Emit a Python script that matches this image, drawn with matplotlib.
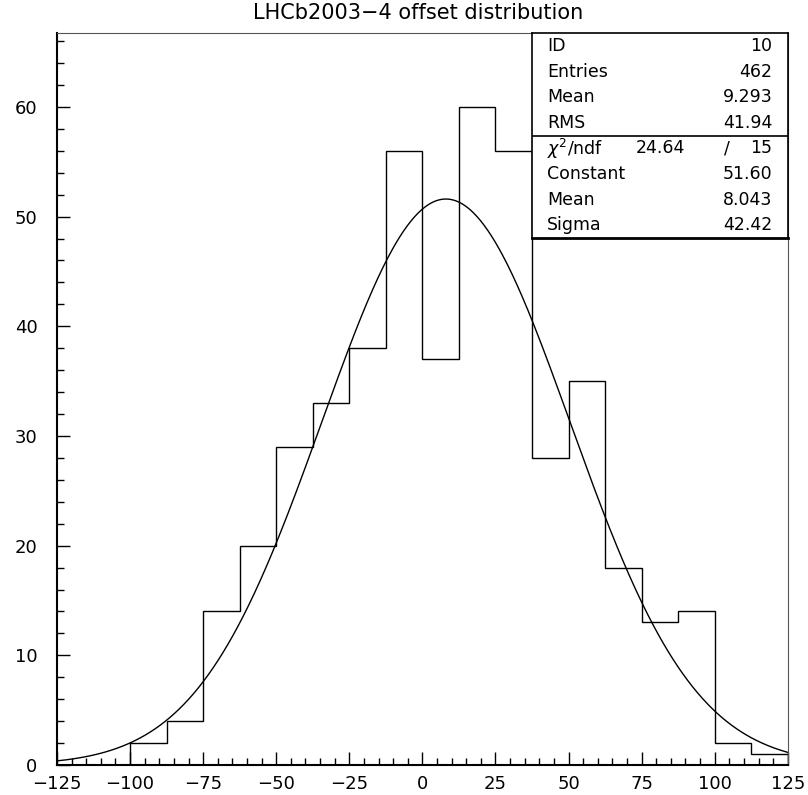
import numpy as np
import matplotlib
matplotlib.use('Agg')
import matplotlib.pyplot as plt
from matplotlib.ticker import MultipleLocator

# Contenido del histograma (bins de 12.5 entre -125 y 125)
bin_edges = [-125, -112.5, -100, -87.5, -75, -62.5, -50, -37.5, -25, -12.5, 0,
             12.5, 25, 37.5, 50, 62.5, 75, 87.5, 100, 112.5, 125]
counts = [0, 0, 2, 4, 14, 20, 29, 33, 38, 56, 37, 60, 56, 28, 35, 18, 13, 14, 2, 1]

# Parametros del ajuste gaussiano
fit_constant = 51.60
fit_mean = 8.043
fit_sigma = 42.42

stats_top = [('ID', '10'), ('Entries', '462'), ('Mean', '9.293'), ('RMS', '41.94')]
stats_fit = [('Constant', '51.60'), ('Mean', '8.043'), ('Sigma', '42.42')]
chi2 = '24.64'
ndf = '15'

plt.rcParams['font.family'] = ['DejaVu Sans']
plt.rcParams['mathtext.fontset'] = 'dejavusans'

fig = plt.figure(figsize=(8.08, 7.95), dpi=100)
ax = fig.add_axes([0.0705, 0.0377, 0.9045, 0.9203])

ax.stairs(counts, bin_edges, color='black', linewidth=1.0, baseline=0)

x = np.linspace(-125, 125, 600)
y = fit_constant * np.exp(-0.5 * ((x - fit_mean) / fit_sigma) ** 2)
ax.plot(x, y, color='black', linewidth=1.0)

ax.set_xlim(-125, 125)
ax.set_ylim(0, 66.7)
ax.xaxis.set_major_locator(MultipleLocator(25))
ax.xaxis.set_minor_locator(MultipleLocator(5))
ax.yaxis.set_major_locator(MultipleLocator(10))
ax.yaxis.set_minor_locator(MultipleLocator(2))
ax.tick_params(which='both', direction='in', top=False, right=False, width=1.0)
ax.tick_params(which='major', length=9.5, labelsize=13)
ax.tick_params(which='minor', length=5)
ax.tick_params(axis='y', pad=14)
ax.tick_params(axis='x', pad=7)
for s in ['left', 'bottom']:
    ax.spines[s].set_linewidth(1.5)
for s in ['top', 'right']:
    ax.spines[s].set_linewidth(0.8)
    ax.spines[s].set_color('#555555')

fig.text(0.517, 0.984, 'LHCb2003\u22124 offset distribution', ha='center', va='center',
         fontsize=15)

# Caja de estadisticas
box = fig.add_axes([0.6584, 0.7006, 0.3168, 0.2575])
box.set_xlim(0, 1)
box.set_ylim(8, 0)
box.set_xticks([])
box.set_yticks([])
box.set_facecolor('white')
for s in box.spines.values():
    s.set_linewidth(1.2)
box.spines['bottom'].set_linewidth(2.0)
box.axhline(4, color='black', linewidth=1.2)

fs = 12.5
row = 0
for name, val in stats_top:
    box.text(0.06, row + 0.5, name, ha='left', va='center', fontsize=fs)
    box.text(0.94, row + 0.5, val, ha='right', va='center', fontsize=fs)
    row += 1
box.text(0.06, row + 0.5, r'$\chi^2$/ndf', ha='left', va='center', fontsize=fs)
box.text(0.50, row + 0.5, chi2, ha='center', va='center', fontsize=fs)
box.text(0.76, row + 0.5, '/', ha='center', va='center', fontsize=fs)
box.text(0.94, row + 0.5, ndf, ha='right', va='center', fontsize=fs)
row += 1
for name, val in stats_fit:
    box.text(0.06, row + 0.5, name, ha='left', va='center', fontsize=fs)
    box.text(0.94, row + 0.5, val, ha='right', va='center', fontsize=fs)
    row += 1

fig.savefig('out.png', dpi=100)
